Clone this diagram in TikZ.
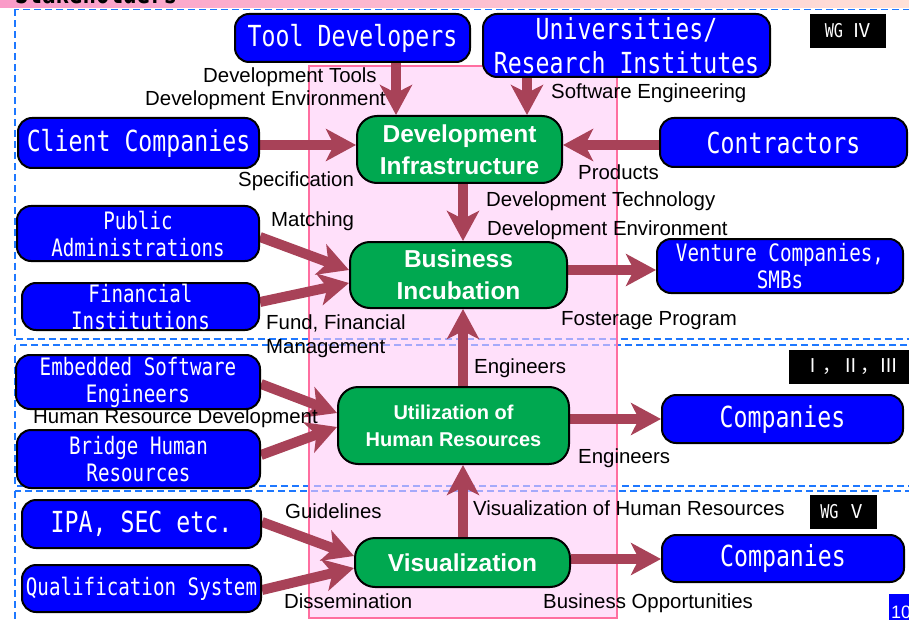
\documentclass[tikz,border=0pt]{standalone}
\usepackage{fontspec}
\setmainfont{Liberation Sans}
\newfontfamily\boxfont[FakeStretch=0.8]{DejaVu Sans Mono}
\newfontfamily\cjkfont{Noto Sans CJK JP}
\usetikzlibrary{arrows.meta,calc}
\definecolor{boxblue}{RGB}{0,0,255}
\definecolor{boxgreen}{RGB}{0,168,80}
\definecolor{arrowc}{RGB}{168,66,88}
\definecolor{dashblue}{RGB}{30,120,255}
\definecolor{pinkfill}{RGB}{255,203,247}
\definecolor{pinkline}{RGB}{255,110,160}
\definecolor{bandl}{RGB}{250,155,200}
\definecolor{bandr}{RGB}{255,225,215}
\pgfdeclarelayer{back}
\pgfdeclarelayer{mid}
\pgfsetlayers{back,mid,main}
\tikzset{
  bluebox/.style={draw=black, line width=2pt, fill=boxblue, rounded corners=14pt, text=white, inner sep=0pt, align=center},
  bigtxt/.style={font=\boxfont\fontsize{29}{34}\selectfont},
  smalltxt/.style={font=\boxfont\fontsize{24}{27}\selectfont},
  greenbox/.style={draw=black, line width=2pt, fill=boxgreen, rounded corners=20pt, text=white, inner sep=0pt, align=center, font=\bfseries\fontsize{24.5}{32}\selectfont},
  wglabel/.style={fill=black, text=white, inner sep=0pt, font=\boxfont\fontsize{19}{22}\selectfont},
  lbl/.style={anchor=west, inner sep=0pt, font=\fontsize{20.4}{24}\selectfont},
  arr/.style={draw=arrowc, line width=10pt, -{Stealth[length=30pt,width=32pt,inset=8pt]}},
  section/.style={draw=dashblue, line width=1.6pt, dash pattern=on 7pt off 4pt},
}
\begin{document}
\begin{tikzpicture}[x=1pt,y=-1pt]
\useasboundingbox (0,0) rectangle (909,620);
\clip (0,0) rectangle (909,620);

% title band
\shade[left color=bandl, right color=bandr] (0,0) rectangle (909,8);
\node[anchor=base west, inner sep=0pt, font=\boxfont\bfseries\fontsize{28}{30}\selectfont] (title) at (15,3.5) {Stakeholders};

% blue boxes
\node[bluebox,bigtxt,minimum width=235pt,minimum height=48pt] (tool) at (352.5,38) {Tool Developers};
\node[bluebox,bigtxt,minimum width=287pt,minimum height=63pt] (univ) at (626.5,45.5) {Universities/\\Research Institutes};
\node[bluebox,bigtxt,minimum width=241pt,minimum height=50pt] (client) at (138.5,143) {Client Companies};
\node[bluebox,bigtxt,minimum width=247pt,minimum height=49pt] (contr) at (783.5,142.5) {Contractors};
\node[bluebox,smalltxt,minimum width=242pt,minimum height=55pt] (pub) at (138,233.5) {Public\\Administrations};
\node[bluebox,smalltxt,minimum width=237pt,minimum height=47pt] (fin) at (140.5,306.5) {Financial\\Institutions};
\node[bluebox,smalltxt,minimum width=246pt,minimum height=54pt] (vent) at (780,266) {Venture Companies,\\SMBs};
\node[bluebox,smalltxt,minimum width=244pt,minimum height=54pt] (emb) at (138,382) {Embedded Software\\Engineers};
\node[bluebox,smalltxt,minimum width=243pt,minimum height=58pt] (bridge) at (138.5,459) {Bridge Human\\Resources};
\node[bluebox,bigtxt,minimum width=241pt,minimum height=48pt] (comp1) at (782.5,419) {Companies};
\node[bluebox,bigtxt,minimum width=239pt,minimum height=48pt] (ipa) at (141.5,524) {IPA, SEC etc.};
\node[bluebox,smalltxt,minimum width=239pt,minimum height=47pt] (qual) at (141.5,588.5) {Qualification System};
\node[bluebox,bigtxt,minimum width=242pt,minimum height=47pt] (comp2) at (783,558.5) {Companies};

% green boxes
\node[greenbox,minimum width=205pt,minimum height=67pt] (dev) at (459.5,149.5) {Development\\Infrastructure};
\node[greenbox,minimum width=217pt,minimum height=66pt] (inc) at (458.5,275) {Business\\Incubation};
\node[greenbox,minimum width=231pt,minimum height=77pt,font=\bfseries\fontsize{20}{27}\selectfont] (util) at (453.5,425.5) {Utilization of\\Human Resources};
\node[greenbox,minimum width=215pt,minimum height=49pt] (vis) at (462.5,562.5) {Visualization};

% WG labels
\node[wglabel,minimum width=76pt,minimum height=34pt] (wg4) at (848,31) {WG {\cjkfont Ⅳ}};
\node[wglabel,minimum width=124pt,minimum height=34pt] (wg123) at (851,367) {{\cjkfont Ⅰ，Ⅱ，Ⅲ}};
\node[wglabel,minimum width=67pt,minimum height=34pt] (wg5) at (843.5,512) {WG {\cjkfont Ⅴ}};

% page number
\fill[boxblue] (889,594) rectangle (915,625);
\node[anchor=base west, inner sep=0pt, text=white, font=\fontsize{18}{20}\selectfont] (pg) at (891,618) {10};

% labels
\node[lbl] (l1) at (203,77) {Development Tools};
\node[lbl] (l2) at (145,100) {Development Environment};
\node[lbl] (l3) at (551,93) {Software Engineering};
\node[lbl] (l4) at (238,181) {Specification};
\node[lbl] (l5) at (578,172) {Products};
\node[lbl] (l6) at (486,201) {Development Technology};
\node[lbl] (l7) at (487,230) {Development Environment};
\node[lbl] (l8) at (271,221) {Matching};
\node[lbl,align=left,font=\fontsize{20.4}{24}\selectfont] (l9) at (266,336) {Fund, Financial\\Management};
\node[lbl] (l10) at (561,321) {Fosterage Program};
\node[lbl] (l11) at (474,368) {Engineers};
\node[lbl] (l12) at (33,418) {Human Resource Development};
\node[lbl] (l13) at (578,458) {Engineers};
\node[lbl] (l14) at (285,511) {Guidelines};
\node[lbl] (l15) at (473,508) {Visualization of Human Resources};
\node[lbl] (l16) at (284,601) {Dissemination};
\node[lbl] (l17) at (543,603) {Business Opportunities};

% background: sections and pink column
\begin{pgfonlayer}{back}
\clip (0,0) rectangle (909,620);
\draw[section] (15,9.5) rectangle (925,339);
\draw[section] (15,345) rectangle (925,486);
\draw[section] (15,491) rectangle (925,640);
\fill[pinkfill, fill opacity=0.6] (309,66) rectangle (617,618);
\draw[pinkline, line width=2pt] (309,66) rectangle (617,618);
\end{pgfonlayer}

% arrows
\begin{pgfonlayer}{mid}
\draw[arr] ($(tool.south)+(43.5,0)$) -- ($(dev.north)+(-63.5,0)$);
\draw[arr] ($(univ.south)+(-99.5,0)$) -- ($(dev.north)+(67.5,0)$);
\draw[arr] ($(client.east)+(0,2)$) -- ($(dev.west)+(0,-4.5)$);
\draw[arr] ($(contr.west)+(0,2.5)$) -- ($(dev.east)+(0,-4.5)$);
\draw[arr] ($(dev.south)+(3.5,0)$) -- ($(inc.north)+(4.5,0)$);
\draw[arr] ($(pub.east)+(0,3.5)$) -- ($(inc.west)+(0,-5)$);
\draw[arr] ($(fin.east)+(0,-4.5)$) -- ($(inc.west)+(0,8)$);
\draw[arr] ($(inc.east)+(0,-5)$) -- ($(vent.west)+(0,4)$);
\draw[arr] ($(util.north)+(9.5,0)$) -- ($(inc.south)+(4.5,0)$);
\draw[arr] ($(emb.east)+(0,2)$) -- ($(util.west)+(0,-12.5)$);
\draw[arr] ($(bridge.east)+(0,-4)$) -- ($(util.west)+(0,1.5)$);
\draw[arr] ($(util.east)+(0,-6.5)$) -- (comp1.west);
\draw[arr] ($(vis.north)+(0.5,0)$) -- ($(util.south)+(9.5,0)$);
\draw[arr] ($(ipa.east)+(0,-2)$) -- ($(vis.west)+(0,-6.5)$);
\draw[arr] ($(qual.east)+(0,1.5)$) -- ($(vis.west)+(0,5.5)$);
\draw[arr] ($(vis.east)+(0,-3.5)$) -- ($(comp2.west)+(0,0.5)$);
\end{pgfonlayer}
\end{tikzpicture}
\end{document}
